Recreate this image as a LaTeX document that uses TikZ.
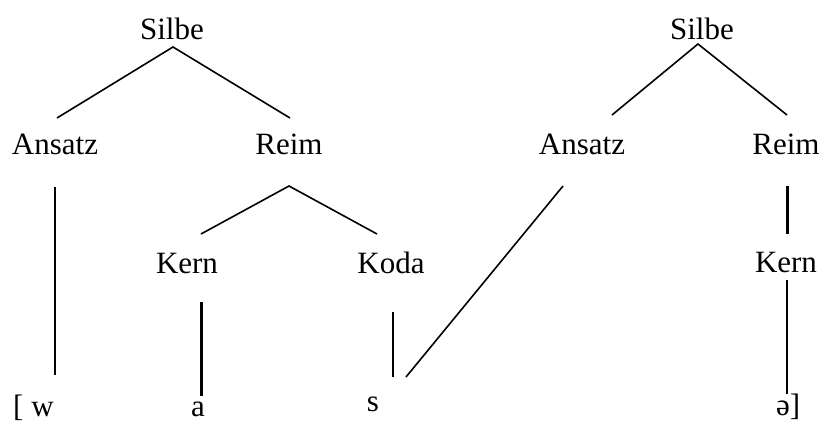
\documentclass[tikz,border=0pt]{standalone}
\usepackage{fontspec}
\setmainfont{Liberation Serif}
\begin{document}
\begin{tikzpicture}[x=1pt,y=-1pt,
  lbl/.style={inner sep=0pt,anchor=base,font=\fontsize{31}{37}\selectfont},
  edge/.style={line width=1.6pt},
  thickedge/.style={line width=3pt}]
\useasboundingbox (0,0) rectangle (823,423);
% left tree
\node[lbl] (silbeA) at (172,39) {Silbe};
\node[lbl] (ansatzA) at (55,154) {Ansatz};
\node[lbl] (reimA) at (289,154) {Reim};
\node[lbl] (kernA) at (187,273) {Kern};
\node[lbl] (kodaA) at (391,273) {Koda};
\node[lbl,anchor=base west] (w) at (13,416) {[ w};
\node[lbl] (a) at (198,416) {a};
\node[lbl] (s) at (373,411) {s};
% right tree
\node[lbl] (silbeB) at (702,39) {Silbe};
\node[lbl] (ansatzB) at (582,154) {Ansatz};
\node[lbl] (reimB) at (786,154) {Reim};
\node[lbl] (kernB) at (786,272) {Kern};
\node[lbl,anchor=base west] (schwa) at (776,415) {ə]};
% connector end points
\coordinate (silbeA-b) at (173,47);
\coordinate (ansatzA-t) at (57,118);
\coordinate (reimA-t) at (290,118);
\coordinate (ansatzA-b) at (55,187);
\coordinate (w-t) at (55,375);
\coordinate (reimA-b) at (289,186);
\coordinate (kernA-t) at (201,234);
\coordinate (kodaA-t) at (377,234);
\coordinate (kernA-b) at (201,302);
\coordinate (a-t) at (201,396);
\coordinate (kodaA-b) at (393,312);
\coordinate (s-t) at (393,377);
\coordinate (s-tr) at (406,377);
\coordinate (ansatzB-b) at (563,186);
\coordinate (silbeB-b) at (698,44);
\coordinate (ansatzB-t) at (612,115);
\coordinate (reimB-t) at (787,115);
\coordinate (reimB-b) at (787,186);
\coordinate (kernB-t) at (787,234);
\coordinate (kernB-b) at (787,280);
\coordinate (schwa-t) at (787,394);
% connectors
\draw[edge] (ansatzA-t) -- (silbeA-b) -- (reimA-t);
\draw[edge] (ansatzA-b) -- (w-t);
\draw[edge] (kernA-t) -- (reimA-b) -- (kodaA-t);
\draw[thickedge] (kernA-b) -- (a-t);
\draw[edge] (kodaA-b) -- (s-t);
\draw[edge] (ansatzB-b) -- (s-tr);
\draw[edge] (ansatzB-t) -- (silbeB-b) -- (reimB-t);
\draw[thickedge] (reimB-b) -- (kernB-t);
\draw[edge] (kernB-b) -- (schwa-t);
\end{tikzpicture}
\end{document}
